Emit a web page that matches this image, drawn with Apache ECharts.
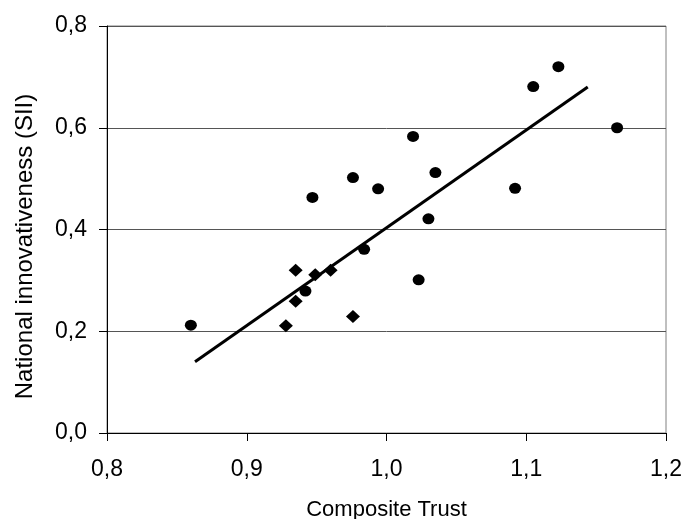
<!DOCTYPE html>
<html>
<head>
<meta charset="utf-8">
<script src="https://cdn.jsdelivr.net/npm/echarts@6/dist/echarts.min.js"></script>
<style>
  html, body { margin: 0; padding: 0; background: #fff; }
  #chart { width: 685px; height: 519px; }
</style>
</head>
<body>
<div id="chart"></div>
<script>
// circle markers: [composite trust, SII]
const circlePoints = [
  [0.860, 0.212], [0.942, 0.279], [0.984, 0.361], [0.947, 0.463],
  [0.976, 0.502], [0.994, 0.480], [1.023, 0.301], [1.030, 0.421],
  [1.035, 0.512], [1.019, 0.583], [1.092, 0.481], [1.105, 0.681],
  [1.123, 0.720], [1.165, 0.600]
];
// diamond markers
const diamondPoints = [
  [0.928, 0.211], [0.935, 0.259], [0.935, 0.320],
  [0.949, 0.311], [0.960, 0.320], [0.976, 0.229]
];
// fitted trend line end points
const trendLine = [[0.863, 0.140], [1.144, 0.680]];

const xTicks = [0.8, 0.9, 1.0, 1.1, 1.2];
const yTicks = [0.0, 0.2, 0.4, 0.6, 0.8];

const font = "Liberation Sans, Arial, sans-serif";
const comma = (v) => v.toFixed(1).replace(".", ",");

const chart = echarts.init(document.getElementById("chart"));

chart.setOption({
  animation: false,
  backgroundColor: "#fff",
  grid: {
    left: 107,
    right: 19,
    top: 26,
    bottom: 86,
    containLabel: false,
    outerBoundsMode: "none",
    show: true,
    borderColor: "#808080",
    borderWidth: 1
  },
  xAxis: {
    type: "value",
    min: xTicks[0],
    max: xTicks[xTicks.length - 1],
    interval: 0.1,
    name: "Composite Trust",
    nameLocation: "middle",
    nameGap: 66,
    nameTextStyle: { color: "#000", fontSize: 22, fontFamily: font },
    axisLine: { show: true, onZero: false, lineStyle: { color: "#000", width: 1 } },
    axisTick: { show: true, length: 8, lineStyle: { color: "#000" } },
    axisLabel: {
      color: "#000", fontSize: 23, fontFamily: font, margin: 25,
      formatter: comma
    },
    splitLine: { show: false }
  },
  yAxis: {
    type: "value",
    min: yTicks[0],
    max: yTicks[yTicks.length - 1],
    interval: 0.2,
    name: "National innovativeness (SII)",
    nameLocation: "middle",
    nameGap: 70,
    nameTextStyle: {
      color: "#000", fontSize: 24, fontFamily: font,
      padding: [0, 34, 0, 0]
    },
    axisLine: { show: true, onZero: false, lineStyle: { color: "#000", width: 1 } },
    axisTick: { show: true, length: 8, lineStyle: { color: "#000" } },
    axisLabel: {
      color: "#000", fontSize: 23, fontFamily: font, margin: 20,
      formatter: comma
    },
    splitLine: { show: true, lineStyle: { color: "#555", width: 1 } }
  },
  series: [
    {
      type: "line",
      data: trendLine,
      showSymbol: false,
      symbol: "none",
      lineStyle: { color: "#000", width: 3 },
      z: 2
    },
    {
      type: "scatter",
      data: circlePoints,
      symbol: "circle",
      symbolSize: [12, 11],
      itemStyle: { color: "#000", opacity: 1 },
      z: 3
    },
    {
      type: "scatter",
      data: diamondPoints,
      symbol: "diamond",
      symbolSize: [14, 13],
      itemStyle: { color: "#000", opacity: 1 },
      z: 3
    }
  ]
});
</script>
</body>
</html>
